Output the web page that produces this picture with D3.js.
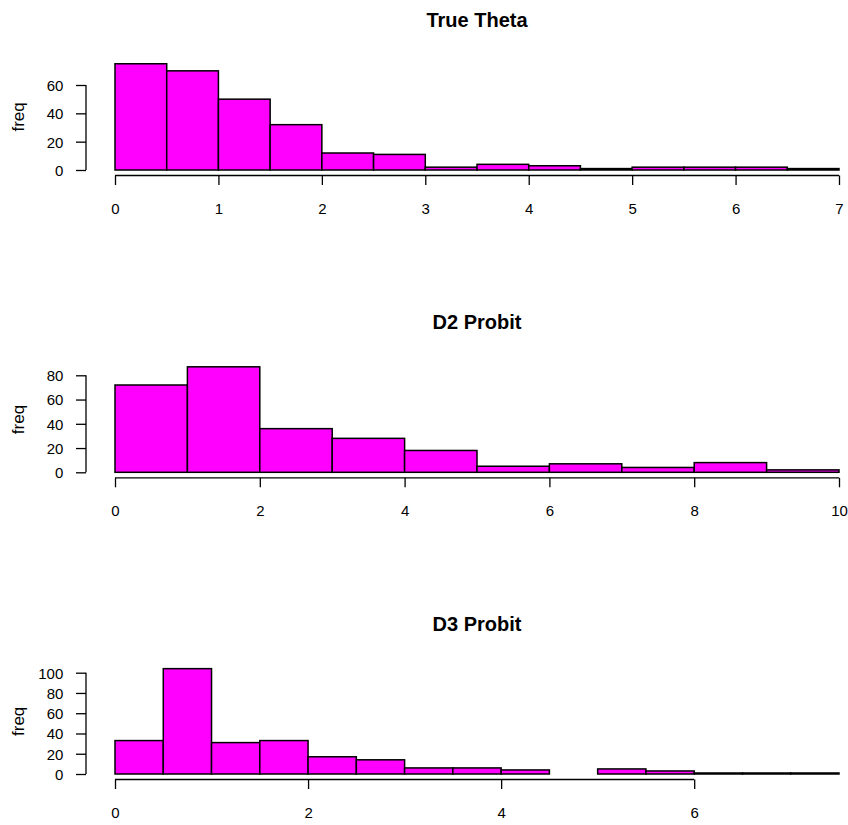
<!DOCTYPE html>
<html>
<head>
<meta charset="utf-8">
<script src="https://cdn.jsdelivr.net/npm/d3@7"></script>
<style>
  html, body { margin: 0; padding: 0; background: #fff; }
  svg { display: block; }
</style>
</head>
<body>
<svg id="chart" width="848" height="825"></svg>
<script>
// Histogram counts per bin, one array per panel
const titles = ["True Theta", "D2 Probit", "D3 Probit"];

const thetaEdges = [0, 0.5, 1, 1.5, 2, 2.5, 3, 3.5, 4, 4.5, 5, 5.5, 6, 6.5, 7];
const thetaCounts = [75, 70, 50, 32, 12, 11, 2, 4, 3, 1, 2, 2, 2, 1];

const d2Edges = [0, 1, 2, 3, 4, 5, 6, 7, 8, 9, 10];
const d2Counts = [72, 87, 36, 28, 18, 5, 7, 4, 8, 2];

const d3Edges = [0, 0.5, 1, 1.5, 2, 2.5, 3, 3.5, 4, 4.5, 5, 5.5, 6, 6.5, 7, 7.5];
const d3Counts = [33, 104, 31, 33, 17, 14, 6, 6, 4, 0, 5, 3, 1, 1, 1];

// Axis tick labels
const thetaXTicks = [0, 1, 2, 3, 4, 5, 6, 7];
const d2XTicks = [0, 2, 4, 6, 8, 10];
const d3XTicks = [0, 2, 4, 6];
const thetaYTicks = [0, 20, 40, 60];
const d2YTicks = [0, 20, 40, 60, 80];
const d3YTicks = [0, 20, 40, 60, 80, 100];

const yLabel = "freq";

const panels = [
  { title: titles[0], edges: thetaEdges, counts: thetaCounts, xTicks: thetaXTicks, yTicks: thetaYTicks,
    base: 170, yRef: 60, yRefPx: 85 },
  { title: titles[1], edges: d2Edges, counts: d2Counts, xTicks: d2XTicks, yTicks: d2YTicks,
    base: 472.3, yRef: 80, yRefPx: 375.3 },
  { title: titles[2], edges: d3Edges, counts: d3Counts, xTicks: d3XTicks, yTicks: d3YTicks,
    base: 774, yRef: 100, yRefPx: 672.7 }
];

const FONT = "'Liberation Sans', Arial, Helvetica, sans-serif";
const FILL = "#ff00ff";
const svg = d3.select("#chart");

const xLeft = 115, xRight = 839, yAxisX = 86;

panels.forEach(p => {
  const xMax = p.edges[p.edges.length - 1];
  const x = d3.scaleLinear().domain([0, xMax]).range([xLeft, xRight]);
  const y = d3.scaleLinear().domain([0, p.yRef]).range([p.base, p.yRefPx]);

  const g = svg.append("g");

  // bins (empty bins leave a gap)
  const bins = p.counts.map((c, i) => ({ x0: p.edges[i], x1: p.edges[i + 1], n: c }));
  g.selectAll("rect.bar")
    .data(bins.filter(b => b.n > 0))
    .join("rect")
    .attr("class", "bar")
    .attr("x", b => x(b.x0))
    .attr("width", b => x(b.x1) - x(b.x0))
    .attr("y", b => y(b.n))
    .attr("height", b => y(0) - y(b.n))
    .attr("fill", FILL)
    .attr("stroke", "#000")
    .attr("stroke-width", 1.5);

  // x axis, drawn from first to last tick
  const xAxisY = p.base + 5.5;
  const xAx = g.append("g")
    .attr("transform", `translate(0,${xAxisY})`)
    .call(d3.axisBottom(x).tickValues(p.xTicks).tickSize(9.5).tickSizeOuter(0).tickFormat(d3.format("d")));
  xAx.select(".domain").remove();
  xAx.append("line")
    .attr("x1", x(p.xTicks[0])).attr("x2", x(p.xTicks[p.xTicks.length - 1]))
    .attr("y1", 0).attr("y2", 0)
    .attr("stroke", "#000").attr("stroke-width", 1.3);
  xAx.selectAll(".tick line").attr("stroke", "#000").attr("stroke-width", 1.3);
  xAx.selectAll(".tick text")
    .attr("y", 33).attr("dy", "0.36em")
    .attr("fill", "#000")
    .style("font-family", FONT).style("font-size", "15px");

  // y axis
  const yAx = g.append("g")
    .attr("transform", `translate(${yAxisX},0)`)
    .call(d3.axisLeft(y).tickValues(p.yTicks).tickSize(10).tickSizeOuter(0));
  yAx.select(".domain").remove();
  yAx.append("line")
    .attr("x1", 0).attr("x2", 0)
    .attr("y1", y(p.yTicks[0])).attr("y2", y(p.yTicks[p.yTicks.length - 1]))
    .attr("stroke", "#000").attr("stroke-width", 1.3);
  yAx.selectAll(".tick line").attr("stroke", "#000").attr("stroke-width", 1.3);
  yAx.selectAll(".tick text")
    .attr("x", -22.7).attr("dy", "0.36em")
    .attr("fill", "#000")
    .style("font-family", FONT).style("font-size", "15px");

  // y-axis title centred on the plot region
  const yMax = d3.max(p.counts);
  const yMid = y(yMax / 2);
  g.append("text")
    .attr("transform", `translate(24,${yMid}) rotate(-90)`)
    .attr("text-anchor", "middle")
    .style("font-family", FONT).style("font-size", "17px")
    .text(yLabel);

  // panel title
  g.append("text")
    .attr("x", x(xMax / 2))
    .attr("y", p.base - 143)
    .attr("text-anchor", "middle")
    .style("font-family", FONT).style("font-size", "20px").style("font-weight", "bold")
    .text(p.title);
});
</script>
</body>
</html>
